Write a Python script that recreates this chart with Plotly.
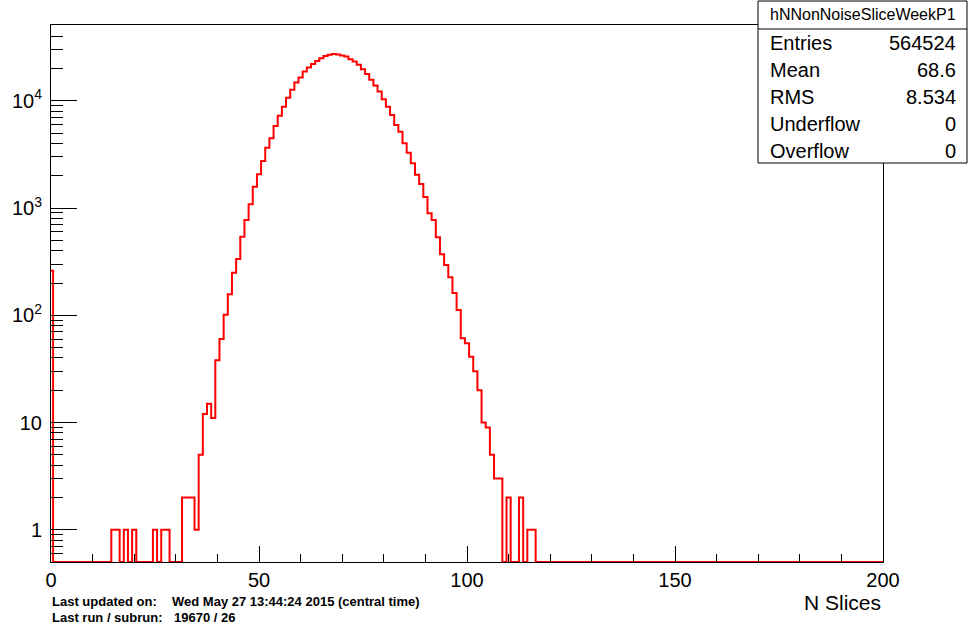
import numpy as np
import plotly.graph_objects as go

# ---- data ----
bin_width = 1.0
first_bin_center = 0.0
counts = [
    260, 0, 0, 0, 0, 0, 0, 0, 0, 0,           # 0-9
    0, 0, 0, 0, 0, 1, 1, 0, 1, 0,             # 10-19
    1, 0, 0, 0, 0, 1, 0, 1, 1, 0,             # 20-29
    0, 0, 2, 2, 2, 1, 5, 12, 15, 11,          # 30-39
    38, 60, 101, 157, 250, 335, 540, 774, 1085, 1585,          # 40-49
    2066, 2746, 3656, 4470, 5820, 7270, 8830, 10720, 12670, 14830,  # 50-59
    16500, 18770, 20440, 22130, 23600, 25000, 26250, 26900, 27300, 27050,  # 60-69
    26480, 25900, 24490, 23270, 21680, 19720, 17850, 15700, 13900, 12220,  # 70-79
    10370, 8830, 7380, 5960, 5160, 4020, 3280, 2620, 2050, 1675,   # 80-89
    1270, 893, 774, 534, 371, 295, 226, 161, 112, 61,     # 90-99
    55, 41, 30, 20, 10, 9, 5, 3, 3, 0,        # 100-109
    2, 0, 0, 2, 0, 1, 1, 0, 0, 0,             # 110-119
] + [0] * 81                                  # 120-200

hist_name = "hNNonNoiseSliceWeekP1"
stat_labels = ["Entries", "Mean", "RMS", "Underflow", "Overflow"]
stat_values = ["564524", "68.6", "8.534", "0", "0"]
x_title = "N Slices"
x_major = [0, 50, 100, 150, 200]
x_minor = [10, 20, 30, 40, 60, 70, 80, 90, 110, 120, 130, 140, 160, 170, 180, 190]
y_major = [1, 10, 100, 1000, 10000]
y_major_text = ["1", "10", "10<sup>2</sup>", "10<sup>3</sup>", "10<sup>4</sup>"]
footer_labels = ["Last updated on:", "Last run / subrun:"]
footer_values = ["Wed May 27 13:44:24 2015 (central time)", "19670 / 26"]

x_range = [0, 200]
y_min, y_max = 0.5, 51000

# ---- geometry helpers ----
W, H = 969, 627
L, R, T, B = 51, 883, 25, 562
FONT = "Liberation Sans"


def px_x(p):
    return (p - L) / (R - L)


def px_y(p):
    return (B - p) / (B - T)


counts_arr = np.array(counts, dtype=float)
n = len(counts_arr)
edges = first_bin_center - bin_width / 2 + bin_width * np.arange(n + 1)
shown = np.where(counts_arr > 0, counts_arr, y_min)
xs = edges
ys = np.append(shown, shown[-1])

minor_y = []
for d in range(-1, 5):
    for k in range(2, 10):
        v = k * 10 ** d
        if y_min <= v <= y_max and v not in y_major:
            minor_y.append(v)
minor_y += [0.5, 0.6, 0.7, 0.8, 0.9]
minor_y = sorted(set(minor_y))

fig = go.Figure()
fig.add_trace(go.Scatter(
    x=xs, y=ys, mode="lines",
    line=dict(color="#ff0000", width=2, shape="hv"),
    hoverinfo="skip", showlegend=False,
))

fig.update_layout(
    width=W, height=H,
    margin=dict(l=L, r=W - R, t=T, b=H - B, pad=0, autoexpand=False),
    paper_bgcolor="white", plot_bgcolor="white",
    font=dict(family=FONT, color="black"),
    showlegend=False,
)

fig.update_xaxes(
    range=x_range, showgrid=False, zeroline=False, automargin=False,
    showline=True, linecolor="black", linewidth=1, mirror=True,
    ticks="inside", tickvals=x_major, ticklen=16, tickcolor="black", tickwidth=1,
    tickfont=dict(size=20, family=FONT, color="black"),
    ticklabelstandoff=0,
    minor=dict(tickvals=x_minor, ticks="inside", ticklen=8, tickcolor="black", tickwidth=1, showgrid=False),
)
fig.update_yaxes(
    type="log", range=[np.log10(y_min), np.log10(y_max)],
    showgrid=False, zeroline=False, automargin=False,
    showline=True, linecolor="black", linewidth=1, mirror=True,
    ticks="inside", tickvals=y_major, ticktext=y_major_text, ticklen=26,
    tickcolor="black", tickwidth=1,
    tickfont=dict(size=20, family=FONT, color="black"),
    ticklabelstandoff=4,
    minor=dict(tickvals=minor_y, ticks="inside", ticklen=12, tickcolor="black", tickwidth=1, showgrid=False),
)

# ---- stats box ----
bx0, bx1, by0, by1, bdiv = 758, 967, 1, 163, 29
shapes = [
    dict(type="rect", xref="paper", yref="paper",
         x0=px_x(bx0), x1=px_x(bx1), y0=px_y(by1), y1=px_y(by0),
         line=dict(color="black", width=1), fillcolor="white", layer="above"),
    dict(type="line", xref="paper", yref="paper",
         x0=px_x(bx0), x1=px_x(bx1), y0=px_y(bdiv), y1=px_y(bdiv),
         line=dict(color="black", width=1), layer="above"),
]
annotations = [
    dict(text=hist_name, xref="paper", yref="paper", x=px_x((bx0 + bx1) / 2), y=px_y(15),
         xanchor="center", yanchor="middle", showarrow=False,
         font=dict(size=16, family=FONT, color="black")),
]
row_y = [43, 70, 97, 124, 151]
for lab, val, yy in zip(stat_labels, stat_values, row_y):
    annotations.append(dict(text=lab, xref="paper", yref="paper", x=px_x(768), y=px_y(yy),
                            xanchor="left", yanchor="middle", showarrow=False,
                            font=dict(size=20, family=FONT, color="black")))
    annotations.append(dict(text=val, xref="paper", yref="paper", x=px_x(958), y=px_y(yy),
                            xanchor="right", yanchor="middle", showarrow=False,
                            font=dict(size=20, family=FONT, color="black")))

# axis title
annotations.append(dict(text=x_title, xref="paper", yref="paper", x=1, y=px_y(602),
                        xanchor="right", yanchor="middle", showarrow=False,
                        font=dict(size=21, family=FONT, color="black")))
# footer
for lab, val, yy, vx in zip(footer_labels, footer_values, [601, 617], [170, 172]):
    annotations.append(dict(text="<b>" + lab + "</b>", xref="paper", yref="paper", x=px_x(50), y=px_y(yy),
                            xanchor="left", yanchor="middle", showarrow=False,
                            font=dict(size=13, family=FONT, color="black")))
    annotations.append(dict(text="<b>" + val + "</b>", xref="paper", yref="paper", x=px_x(vx), y=px_y(yy),
                            xanchor="left", yanchor="middle", showarrow=False,
                            font=dict(size=13, family=FONT, color="black")))

fig.update_layout(shapes=shapes, annotations=annotations)
fig.write_html("out.html")
